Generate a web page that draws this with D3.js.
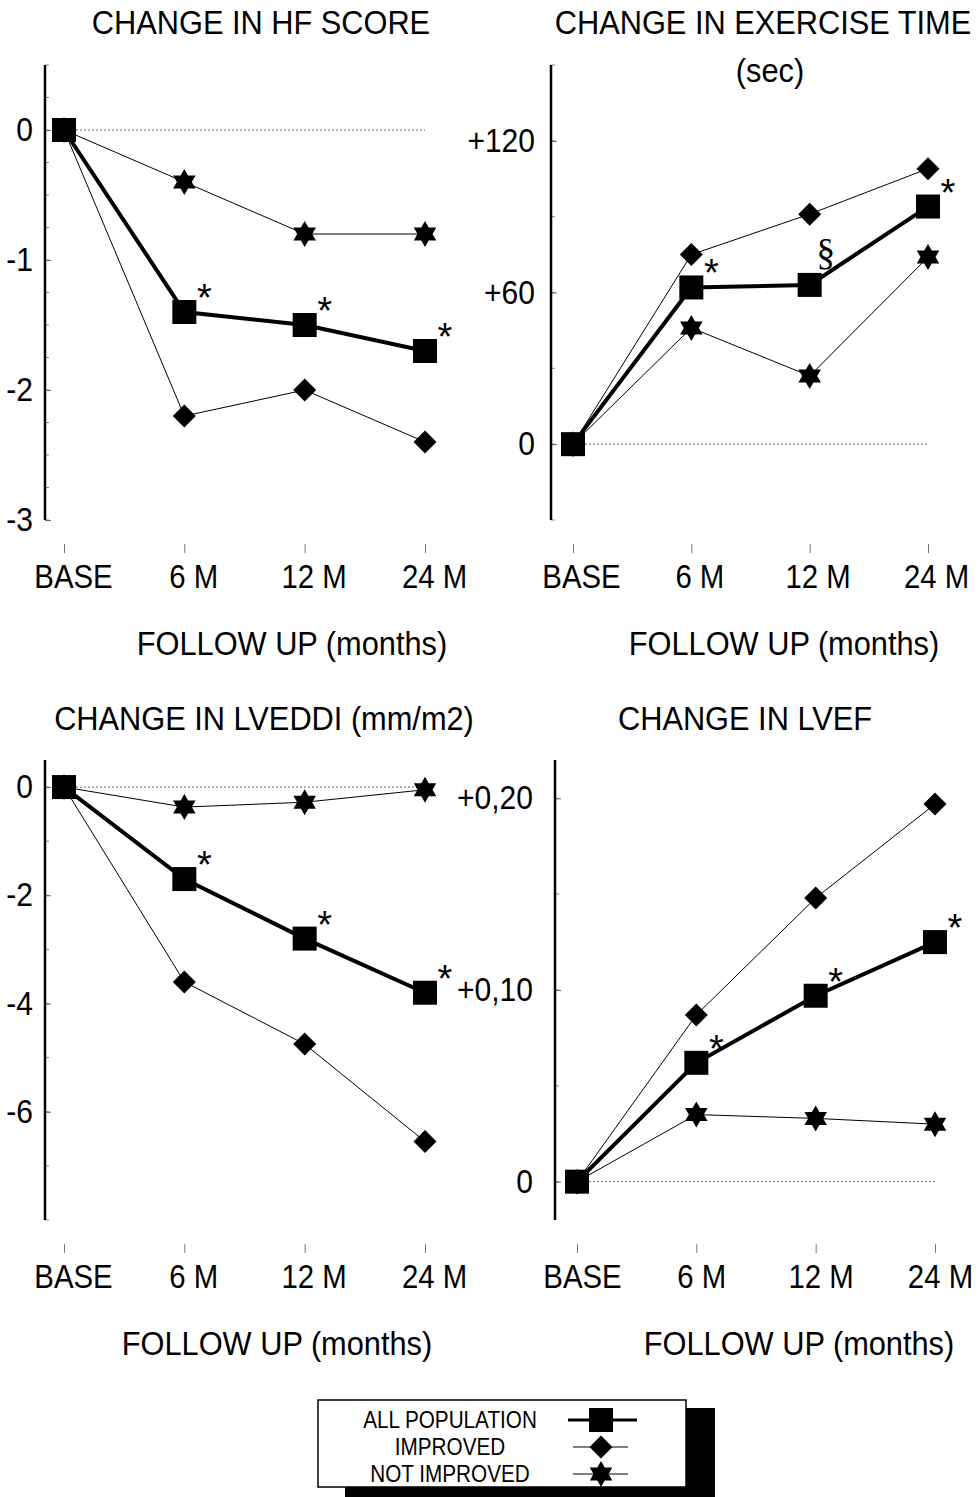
<!DOCTYPE html>
<html>
<head>
<meta charset="utf-8">
<script src="https://cdn.jsdelivr.net/npm/d3@7"></script>
<style>
  body { margin: 0; background: #fff; }
  text { font-family: "Liberation Sans", Arial, sans-serif; fill: #000; }
</style>
</head>
<body>
<script>
var width = 979;
var height = 1497;

// follow-up visits
var periods = ["BASE", "6 M", "12 M", "24 M"];

// change in HF score
var hfAll = [0, -1.4, -1.5, -1.7];
var hfImproved = [0, -2.2, -2.0, -2.4];
var hfNotImproved = [0, -0.4, -0.8, -0.8];
var hfTicks = [0, -1, -2, -3];
var hfTickLabels = ["0", "-1", "-2", "-3"];
var hfMarks = ["", "*", "*", "*"];

// change in exercise time (sec)
var exAll = [0, 62, 63, 94];
var exImproved = [0, 75, 91, 109];
var exNotImproved = [0, 46, 27, 74];
var exTicks = [0, 60, 120];
var exTickLabels = ["0", "+60", "+120"];
var exMarks = ["", "*", "§", "*"];

// change in LVEDDI (mm/m2)
var lvAll = [0, -1.7, -2.8, -3.8];
var lvImproved = [0, -3.6, -4.75, -6.55];
var lvNotImproved = [0, -0.37, -0.28, -0.05];
var lvTicks = [0, -2, -4, -6];
var lvTickLabels = ["0", "-2", "-4", "-6"];
var lvMarks = ["", "*", "*", "*"];

// change in LVEF
var efAll = [0, 0.062, 0.097, 0.125];
var efImproved = [0, 0.087, 0.148, 0.197];
var efNotImproved = [0, 0.035, 0.033, 0.030];
var efTicks = [0, 0.1, 0.2];
var efTickLabels = ["0", "+0,10", "+0,20"];
var efMarks = ["", "*", "*", "*"];

var legendLabels = ["ALL POPULATION", "IMPROVED", "NOT IMPROVED"];

var svg = d3.select("body").append("svg")
    .attr("width", width)
    .attr("height", height);

// the scan uses a narrow sans, so squeeze text horizontally around its anchor
function squeeze(sel, f) {
    sel.each(function () {
        var ax = +(this.getAttribute("x") || 0);
        d3.select(this).attr("transform",
            "translate(" + ax + ",0) scale(" + f + ",1) translate(" + (-ax) + ",0)");
    });
}

// six pointed star
function hexagram(r) {
    var pts = [];
    for (var k = 0; k < 12; k++) {
        var a = -Math.PI / 2 + k * Math.PI / 6;
        var rr = k % 2 === 0 ? r : r / Math.sqrt(3);
        pts.push([rr * Math.cos(a), rr * Math.sin(a)]);
    }
    return "M" + pts.map(function (p) { return p[0].toFixed(2) + "," + p[1].toFixed(2); }).join("L") + "Z";
}

function marker(g, kind, x, y) {
    if (kind === 0) {
        g.append("rect").attr("x", x - 12).attr("y", y - 12)
            .attr("width", 24).attr("height", 24).attr("fill", "#000");
    } else if (kind === 1) {
        g.append("path").attr("d", "M0,-11.5L11.5,0L0,11.5L-11.5,0Z")
            .attr("transform", "translate(" + x + "," + y + ")").attr("fill", "#000");
    } else {
        g.append("path").attr("d", hexagram(13))
            .attr("transform", "translate(" + x + "," + y + ")").attr("fill", "#000");
    }
}

var panels = [
    { title: ["CHANGE IN HF SCORE"], titleX: 261, x0: 64, x1: 425, axisX: 45, top: 65, bottom: 520,
      domain: [-3, 0.5], minor: 0.25, ticks: hfTicks, tickLabels: hfTickLabels, labelGap: 12,
      series: [hfAll, hfImproved, hfNotImproved], marks: hfMarks, followX: 292, dy: 0, labelDx: 9 },
    { title: ["CHANGE IN EXERCISE TIME", "(sec)"], titleX: 763, x0: 573, x1: 928, axisX: 551, top: 65, bottom: 520,
      domain: [-30, 150], minor: 30, ticks: exTicks, tickLabels: exTickLabels, labelGap: 16,
      series: [exAll, exImproved, exNotImproved], marks: exMarks, followX: 784, dy: 0, labelDx: 8 },
    { title: ["CHANGE IN LVEDDI (mm/m2)"], titleX: 264, x0: 64, x1: 425, axisX: 45, top: 760, bottom: 1220,
      domain: [-8, 0.5], minor: 1, ticks: lvTicks, tickLabels: lvTickLabels, labelGap: 12,
      series: [lvAll, lvImproved, lvNotImproved], marks: lvMarks, followX: 277, dy: 696, labelDx: 9 },
    { title: ["CHANGE IN LVEF"], titleX: 745, x0: 577, x1: 935, axisX: 555, top: 760, bottom: 1220,
      domain: [-0.02, 0.22], minor: 0.05, ticks: efTicks, tickLabels: efTickLabels, labelGap: 22,
      series: [efAll, efImproved, efNotImproved], marks: efMarks, followX: 799, dy: 696, labelDx: 5 }
];

panels.forEach(function (p) {
    var g = svg.append("g");

    var x = d3.scalePoint().domain(periods).range([p.x0, p.x1]);
    var y = d3.scaleLinear().domain(p.domain).range([p.bottom, p.top]);

    // titles
    p.title.forEach(function (t, i) {
        g.append("text").attr("x", i === 0 ? p.titleX : p.titleX + 7).attr("y", 22 + p.dy + i * 48)
            .attr("dy", "0.36em").attr("text-anchor", "middle")
            .style("font-size", "34px").text(t)
            .call(squeeze, 0.905);
    });

    // minor ticks
    var minorTicks = d3.range(Math.ceil(p.domain[0] / p.minor), Math.floor(p.domain[1] / p.minor) + 1)
        .map(function (k) { return k * p.minor; });
    g.append("g").selectAll("line").data(minorTicks).enter().append("line")
        .attr("x1", p.axisX).attr("x2", p.axisX + 4)
        .attr("y1", function (d) { return y(d); }).attr("y2", function (d) { return y(d); })
        .attr("stroke", "#888").attr("stroke-width", 1);

    // y axis
    var yAxis = d3.axisLeft(y).tickValues(p.ticks)
        .tickFormat(function (d, i) { return p.tickLabels[i]; })
        .tickSizeInner(-6).tickSizeOuter(0).tickPadding(p.labelGap);
    var ya = g.append("g").attr("transform", "translate(" + p.axisX + ",0)").call(yAxis);
    ya.select(".domain").remove();
    ya.selectAll(".tick line").attr("stroke", "#666");
    ya.selectAll(".tick text").style("font-size", "33px")
        .style("font-family", "'Liberation Sans', Arial, sans-serif")
        .call(squeeze, 0.91);
    g.append("line").attr("x1", p.axisX).attr("x2", p.axisX)
        .attr("y1", p.top).attr("y2", p.bottom)
        .attr("stroke", "#000").attr("stroke-width", 2.5);

    // x axis: ticks and labels only
    var xAxis = d3.axisBottom(x).tickSizeInner(9).tickSizeOuter(0).tickPadding(12);
    var xa = g.append("g").attr("transform", "translate(0," + (p.bottom + 24) + ")").call(xAxis);
    xa.select(".domain").remove();
    xa.selectAll(".tick line").attr("stroke", "#777");
    xa.selectAll(".tick text").attr("x", p.labelDx).style("font-size", "33px")
        .style("font-family", "'Liberation Sans', Arial, sans-serif")
        .call(squeeze, 0.89);

    g.append("text").attr("x", p.followX).attr("y", p.bottom + 123).attr("dy", "0.36em")
        .attr("text-anchor", "middle").style("font-size", "34px").text("FOLLOW UP (months)")
        .call(squeeze, 0.905);

    // zero reference
    g.append("line").attr("x1", x(periods[0])).attr("x2", x(periods[3]))
        .attr("y1", y(0)).attr("y2", y(0))
        .attr("stroke", "#666").attr("stroke-width", 1).attr("stroke-dasharray", "2,2");

    var line = d3.line()
        .x(function (d, i) { return x(periods[i]); })
        .y(function (d) { return y(d); });

    // thin lines, then thick
    [2, 1, 0].forEach(function (s) {
        g.append("path").datum(p.series[s]).attr("d", line)
            .attr("fill", "none").attr("stroke", "#000")
            .attr("stroke-width", s === 0 ? 4 : 1);
    });

    [1, 2, 0].forEach(function (s) {
        p.series[s].forEach(function (v, i) {
            marker(g, s, x(periods[i]), y(v));
        });
    });

    // significance marks
    p.series[0].forEach(function (v, i) {
        var m = p.marks[i];
        if (!m) return;
        if (m === "§") {
            g.append("text").attr("x", x(periods[i]) + 16).attr("y", y(v) - 20)
                .attr("text-anchor", "middle").style("font-family", "'Liberation Serif', serif")
                .style("font-size", "38px").text(m);
        } else {
            g.append("text").attr("x", x(periods[i]) + 20).attr("y", y(v) - 1)
                .attr("text-anchor", "middle").style("font-size", "38px").text(m);
        }
    });
});

// legend
var lg = svg.append("g");
lg.append("rect").attr("x", 345).attr("y", 1408).attr("width", 370).attr("height", 89).attr("fill", "#000");
lg.append("rect").attr("x", 318).attr("y", 1400).attr("width", 368).attr("height", 87)
    .attr("fill", "#fff").attr("stroke", "#000").attr("stroke-width", 1.5);

legendLabels.forEach(function (t, i) {
    var yy = 1420 + i * 27;
    lg.append("text").attr("x", 450).attr("y", yy).attr("dy", "0.36em")
        .attr("text-anchor", "middle").style("font-size", "23px").text(t)
        .call(squeeze, 0.9);
    if (i === 0) {
        lg.append("line").attr("x1", 568).attr("x2", 637).attr("y1", yy).attr("y2", yy)
            .attr("stroke", "#000").attr("stroke-width", 3);
    } else {
        lg.append("line").attr("x1", 573).attr("x2", 628).attr("y1", yy).attr("y2", yy)
            .attr("stroke", "#000").attr("stroke-width", 1);
    }
    marker(lg, i, 601, yy);
});
</script>
</body>
</html>
